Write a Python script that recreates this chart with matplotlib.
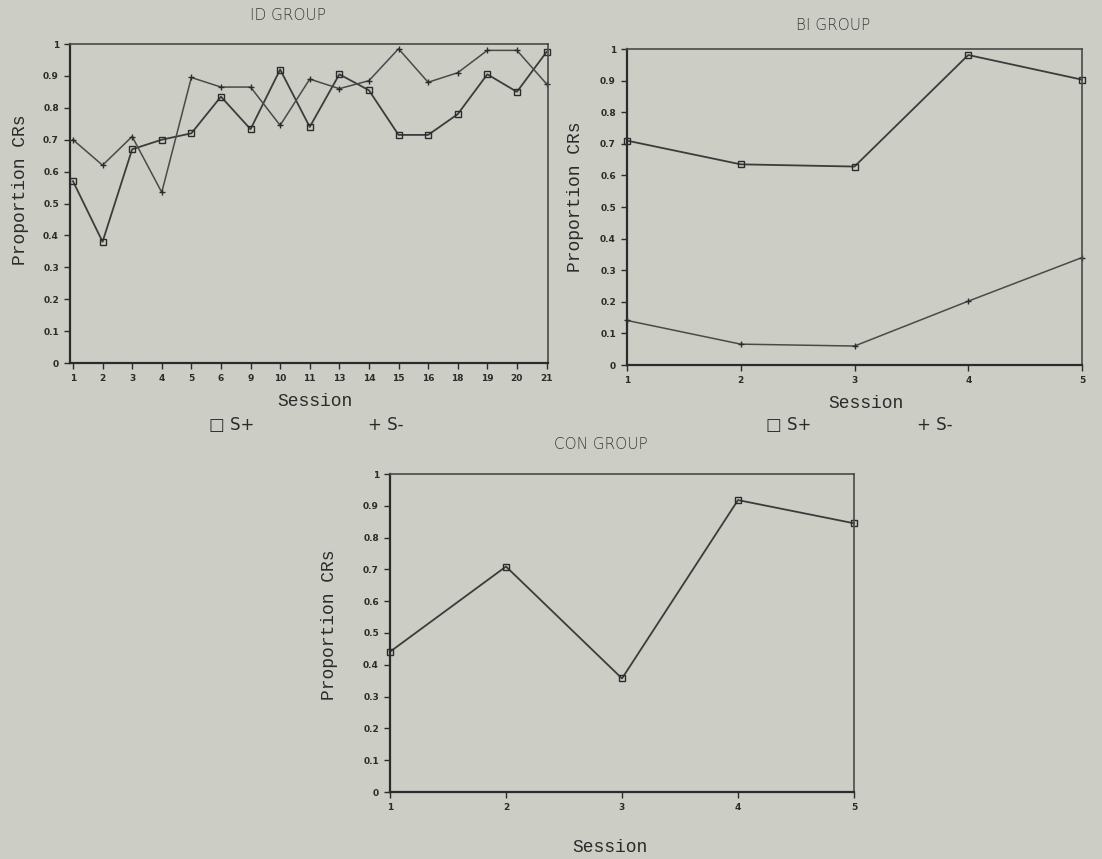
import numpy as np
import matplotlib
matplotlib.use("Agg")
import matplotlib.pyplot as plt

# ID group: 17 sessions, S+ (squares) and S- (plus)
id_sessions = ["1", "2", "3", "4", "5", "6", "9", "10", "11", "13",
               "14", "15", "16", "18", "19", "20", "21"]
id_s_plus = [0.57, 0.38, 0.67, 0.70, 0.72, 0.835, 0.733, 0.92, 0.74, 0.905,
             0.855, 0.715, 0.715, 0.78, 0.905, 0.85, 0.975]
id_s_minus = [0.70, 0.62, 0.71, 0.535, 0.895, 0.865, 0.865, 0.745, 0.89, 0.86,
              0.885, 0.985, 0.88, 0.91, 0.98, 0.98, 0.875]

# BI group: 5 sessions
bi_sessions = [1, 2, 3, 4, 5]
bi_s_plus = [0.71, 0.635, 0.628, 0.981, 0.903]
bi_s_minus = [0.141, 0.066, 0.060, 0.202, 0.34]

# CON group: 5 sessions, S+ only
con_sessions = [1, 2, 3, 4, 5]
con_s_plus = [0.441, 0.709, 0.357, 0.918, 0.845]

y_ticks = [0, 0.1, 0.2, 0.3, 0.4, 0.5, 0.6, 0.7, 0.8, 0.9, 1]
y_ticklabels = ["0", "0.1", "0.2", "0.3", "0.4", "0.5", "0.6", "0.7", "0.8", "0.9", "1"]

BG = "#cccdc5"
INK = "#2b2b2b"
LINE = "#3c3c3c"
W, H = 1102, 859

fig = plt.figure(figsize=(W / 100, H / 100), dpi=100, facecolor=BG)


def px_axes(left, top, right, bottom):
    # place an axes from pixel coordinates of the figure
    return fig.add_axes([left / W, 1 - bottom / H, (right - left) / W, (bottom - top) / H])


def ftext(x, y, s, **kw):
    fig.text(x / W, 1 - y / H, s, ha="center", va="center", **kw)


def style(ax):
    ax.set_facecolor(BG)
    ax.set_ylim(0, 1)
    ax.set_yticks(y_ticks)
    ax.set_yticklabels(y_ticklabels)
    for side in ["left", "bottom"]:
        ax.spines[side].set_color(INK)
        ax.spines[side].set_linewidth(1.6)
    for side in ["top", "right"]:
        ax.spines[side].set_color("#4a4a4a")
        ax.spines[side].set_linewidth(1.2)
    ax.tick_params(axis="both", direction="out", length=4, width=1,
                   color=INK, labelsize=6.5, labelcolor=INK, pad=4)
    for lab in ax.get_xticklabels() + ax.get_yticklabels():
        lab.set_fontweight("bold")


def draw(ax, x, s_plus, s_minus=None):
    ax.plot(x, s_plus, color=LINE, lw=1.3, marker="s", ms=4,
            mfc="none", mec=INK, mew=1.0, clip_on=False)
    if s_minus is not None:
        ax.plot(x, s_minus, color="#4a4a4a", lw=1.1, marker="+", ms=4,
                mec=INK, mew=1.0, clip_on=False)


# ID GROUP
ax1 = px_axes(70, 44, 548, 363)
pos = np.arange(len(id_sessions))
draw(ax1, pos, id_s_plus, id_s_minus)
ax1.set_xticks(pos)
ax1.set_xticklabels(id_sessions)
ax1.set_xlim(-0.1, 16.05)
style(ax1)

# BI GROUP
ax2 = px_axes(627, 49, 1082, 365)
draw(ax2, bi_sessions, bi_s_plus, bi_s_minus)
ax2.set_xticks(bi_sessions)
ax2.set_xlim(1, 5)
style(ax2)

# CON GROUP
ax3 = px_axes(390, 474, 854, 792)
draw(ax3, con_sessions, con_s_plus)
ax3.set_xticks(con_sessions)
ax3.set_xlim(1, 5)
style(ax3)

title_kw = dict(fontsize=11, color="#3a3a3a", family="DejaVu Sans", fontweight="light")
ftext(288, 16, "ID GROUP", **title_kw)
ftext(833, 25, "BI GROUP", **title_kw)
ftext(601, 445, "CON GROUP", **title_kw)

mono = dict(fontsize=13, color=INK, family="Liberation Mono")
ftext(315, 402, "Session", **mono)
ftext(866, 404, "Session", **mono)
ftext(610, 847, "Session", **mono)
ftext(21, 190, "Proportion CRs", rotation=90, **mono)
ftext(576, 197, "Proportion CRs", rotation=90, **mono)
ftext(330, 625, "Proportion CRs", rotation=90, **mono)

leg_kw = dict(fontsize=12, color=INK, family="DejaVu Sans")
ftext(232, 425, "\u25a1 S+", **leg_kw)
ftext(386, 425, "+ S-", **leg_kw)
ftext(789, 425, "\u25a1 S+", **leg_kw)
ftext(935, 425, "+ S-", **leg_kw)

fig.savefig("out.png", dpi=100, facecolor=BG)
